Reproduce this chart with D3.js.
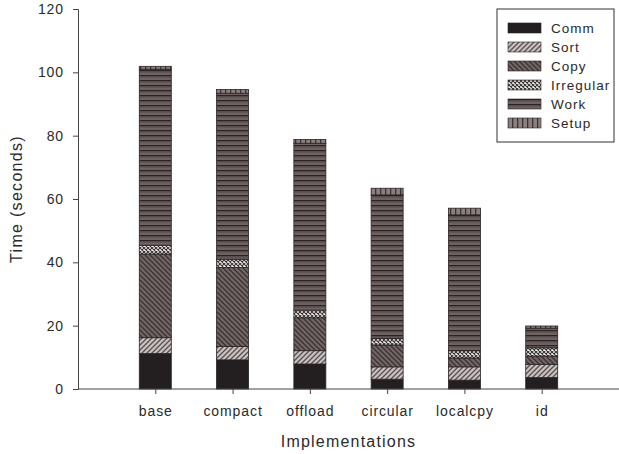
<!DOCTYPE html>
<html>
<head>
<meta charset="utf-8">
<script src="https://cdn.jsdelivr.net/npm/d3@7"></script>
<style>
  html, body { margin: 0; padding: 0; background: #fff; }
  svg { display: block; font-family: "Liberation Sans", Arial, sans-serif; }
</style>
</head>
<body>
<svg id="chart" width="619" height="454"></svg>
<script>
// Stacked time breakdown per implementation
const categories = ["base", "compact", "offload", "circular", "localcpy", "id"];
const seriesNames = ["Comm", "Sort", "Copy", "Irregular", "Work", "Setup"];
const comm      = [11.2, 9.2, 7.9, 3.1, 2.8, 3.6];
const sort      = [5.0, 4.2, 4.2, 3.9, 4.2, 4.2];
const copy      = [26.4, 25.0, 10.4, 6.9, 2.8, 2.6];
const irregular = [2.8, 2.6, 2.4, 2.1, 2.3, 2.6];
const work      = [55.6, 52.4, 52.7, 45.3, 42.9, 6.2];
const setup     = [0.9, 1.2, 1.2, 2.1, 2.1, 0.7];
const yTicks = [0, 20, 40, 60, 80, 100, 120];

const seriesValues = [comm, sort, copy, irregular, work, setup];
const rows = categories.map((c, i) => {
  const r = { category: c };
  seriesNames.forEach((s, k) => { r[s] = seriesValues[k][i]; });
  return r;
});

const svg = d3.select("#chart");
const margin = { left: 78, right: 0, top: 9, bottom: 65 };
const W = 619, H = 454;

const x = d3.scalePoint().domain(categories).range([margin.left, W - margin.right]).padding(1);
const y = d3.scaleLinear().domain([0, 120]).range([H - margin.bottom, margin.top]);
const barW = 32;

// Fill patterns for each component
const defs = svg.append("defs");
const dark = "#2a2323";

function pat(id, w, h, bg, draw) {
  const p = defs.append("pattern").attr("id", id).attr("patternUnits", "userSpaceOnUse")
    .attr("width", w).attr("height", h);
  p.append("rect").attr("width", w).attr("height", h).attr("fill", bg);
  draw(p);
}
pat("p-comm", 4, 4, "#231e1f", () => {});
pat("p-sort", 5, 5, "#cbc3c3", p => {
  p.append("path").attr("d", "M-1,1 L1,-1 M0,5 L5,0 M4,6 L6,4").attr("stroke", "#5b5151").attr("stroke-width", 1.4);
});
pat("p-copy", 5, 5, "#726666", p => {
  p.append("path").attr("d", "M-1,4 L1,6 M0,0 L5,5 M4,-1 L6,1").attr("stroke", "#3a3131").attr("stroke-width", 1.3);
});
pat("p-irr", 4, 4, "#f4f2f2", p => {
  p.append("path").attr("d", "M0,0 L4,4 M4,0 L0,4").attr("stroke", "#3a3333").attr("stroke-width", 1.1);
});
pat("p-work", 5, 5, "#6e6262", p => {
  p.append("rect").attr("y", 0).attr("width", 5).attr("height", 1.2).attr("fill", dark);
  p.append("rect").attr("y", 1.2).attr("width", 5).attr("height", 1.3).attr("fill", "#554a4a");
});
pat("p-setup", 5, 5, "#8b8080", p => {
  p.append("rect").attr("x", 0).attr("width", 1.3).attr("height", 5).attr("fill", "#3a3131");
});
const fills = { Comm: "url(#p-comm)", Sort: "url(#p-sort)", Copy: "url(#p-copy)",
  Irregular: "url(#p-irr)", Work: "url(#p-work)", Setup: "url(#p-setup)" };

// Stacked bars
const stacked = d3.stack().keys(seriesNames)(rows);
svg.append("g").selectAll("g").data(stacked).join("g")
  .attr("fill", d => fills[d.key])
  .selectAll("rect").data(d => d).join("rect")
  .attr("x", d => x(d.data.category) - barW / 2)
  .attr("width", barW)
  .attr("y", d => y(d[1]))
  .attr("height", d => y(d[0]) - y(d[1]))
  .attr("stroke", dark).attr("stroke-width", 0.8);

// Axes
const axisColor = "#444";
const textColor = "#2a2a2a";
const yAxis = svg.append("g").attr("transform", `translate(${margin.left},0)`)
  .call(d3.axisLeft(y).tickValues(yTicks).tickSize(5).tickPadding(9));
const xAxis = svg.append("g").attr("transform", `translate(0,${y(0)})`)
  .call(d3.axisBottom(x).tickSize(5).tickPadding(12));
[yAxis, xAxis].forEach(g => {
  g.select(".domain").attr("stroke", axisColor);
  g.selectAll(".tick line").attr("stroke", axisColor);
  g.selectAll(".tick text").attr("fill", textColor).attr("font-size", 14)
    .attr("letter-spacing", 0.9)
    .attr("font-family", "'Liberation Sans', Arial, sans-serif");
});
xAxis.select(".domain").attr("d", `M${margin.left},0H${W}`);

// Axis titles
svg.append("text").attr("x", (margin.left + W) / 2).attr("y", 447)
  .attr("text-anchor", "middle").attr("font-size", 16).attr("letter-spacing", 1.2)
  .attr("fill", textColor).text("Implementations");
svg.append("text").attr("transform", `translate(22,${(y(0) + y(120)) / 2}) rotate(-90)`)
  .attr("text-anchor", "middle").attr("font-size", 16).attr("letter-spacing", 1.3)
  .attr("fill", textColor).text("Time (seconds)");

// Legend (top series first)
const legend = svg.append("g").attr("transform", "translate(497,9)");
legend.append("rect").attr("width", 117).attr("height", 133)
  .attr("fill", "#fff").attr("stroke", "#333").attr("stroke-width", 1);
seriesNames.forEach((s, i) => {
  const gy = 14 + i * 19;
  legend.append("rect").attr("x", 11).attr("y", gy).attr("width", 33).attr("height", 10)
    .attr("fill", fills[s]).attr("stroke", dark).attr("stroke-width", 0.6);
  legend.append("text").attr("x", 54).attr("y", gy + 10)
    .attr("font-size", 13.5).attr("letter-spacing", 1.0).attr("fill", textColor).text(s);
});
</script>
</body>
</html>
